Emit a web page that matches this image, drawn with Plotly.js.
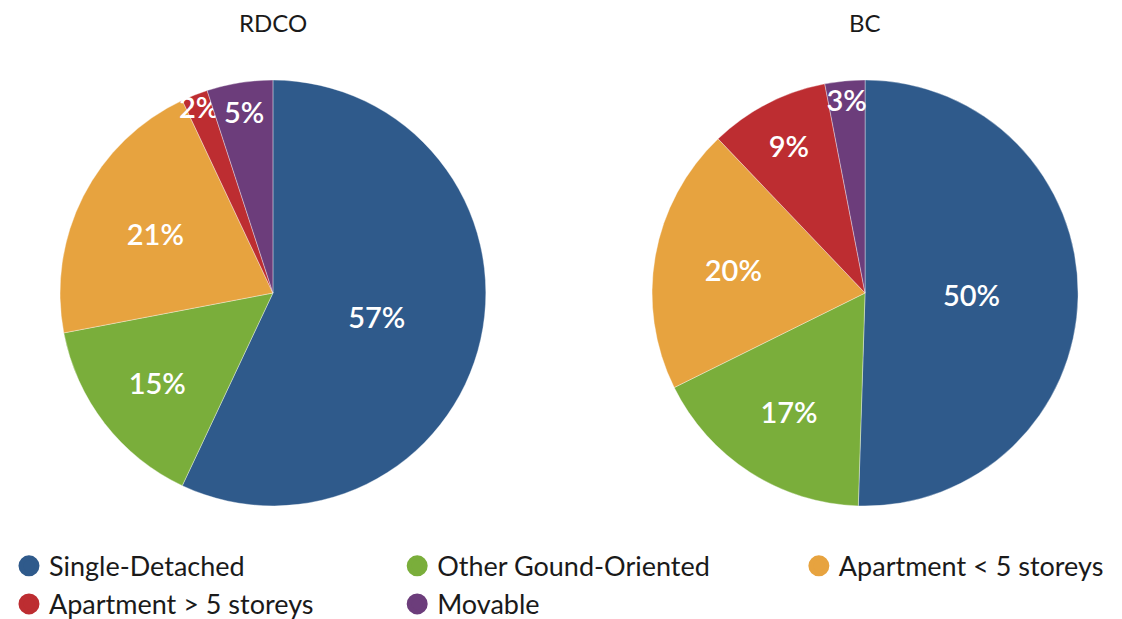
<!DOCTYPE html>
<html>
<head>
<meta charset="utf-8">
<script src="https://cdn.plot.ly/plotly-3.0.1.min.js"></script>
<style>html,body{margin:0;padding:0;background:#fff;}#chart{width:1122px;height:619px;}</style>
</head>
<body>
<div id="chart"></div>
<script>
var categories = ["Single-Detached", "Other Gound-Oriented", "Apartment < 5 storeys", "Apartment > 5 storeys", "Movable"];
var rdcoValues = [57, 15, 21, 2, 5];
var bcValues = [50, 17, 20, 9, 3];
var pieTitles = ["RDCO", "BC"];
var colors = ["#2F5A8B", "#7AAE3B", "#E7A33F", "#BD2D31", "#6C3D7B"];
var legendColumn = ["legend", "legend2", "legend3", "legend", "legend2"];

var FONT = "Lato, 'Open Sans', sans-serif";
function pieTrace(values, domainX) {
  return {
    type: "pie",
    labels: categories,
    values: values,
    sort: false,
    direction: "clockwise",
    rotation: 0,
    domain: {x: domainX, y: [0, 1]},
    marker: {colors: colors, line: {color: "rgba(255,255,255,0.6)", width: 0.6}},
    texttemplate: "%{value}%",
    textposition: "inside",
    insidetextorientation: "horizontal",
    textfont: {family: FONT, size: 29, color: "#ffffff", weight: 600},
    hoverinfo: "label+value",
    showlegend: false
  };
}

var data = [
  pieTrace(rdcoValues, [0.0535, 0.433]),
  pieTrace(bcValues, [0.581, 0.961])
];
categories.forEach(function (c, i) {
  data.push({
    type: "scatter", mode: "markers", x: [null], y: [null], name: c,
    legend: legendColumn[i],
    marker: {color: colors[i], size: 24, symbol: "circle", line: {color: colors[i], width: 5}},
    showlegend: true, hoverinfo: "skip"
  });
});

function legendAt(x) {
  return {
    orientation: "v", x: x, xanchor: "left", y: -0.084, yanchor: "top",
    font: {family: FONT, size: 27, color: "#1a1a1a"},
    itemsizing: "trace", bgcolor: "rgba(0,0,0,0)"
  };
}

var layout = {
  width: 1122, height: 619,
  margin: {l: 0, r: 0, t: 80, b: 113, autoexpand: false},
  paper_bgcolor: "#ffffff", plot_bgcolor: "#ffffff",
  xaxis: {visible: false}, yaxis: {visible: false},
  showlegend: true,
  uniformtext: {mode: "show", minsize: 29},
  legend: legendAt(0.008),
  legend2: legendAt(0.354),
  legend3: legendAt(0.712),
  annotations: pieTitles.map(function (t, i) {
    return {text: t, xref: "paper", yref: "paper", x: i === 0 ? 0.2433 : 0.771, y: 1,
      xanchor: "center", yshift: 58, yanchor: "middle", showarrow: false,
      font: {family: FONT, size: 24, color: "#1a1a1a"}};
  })
};

Plotly.newPlot("chart", data, layout, {displayModeBar: false, staticPlot: true});
</script>
</body>
</html>
